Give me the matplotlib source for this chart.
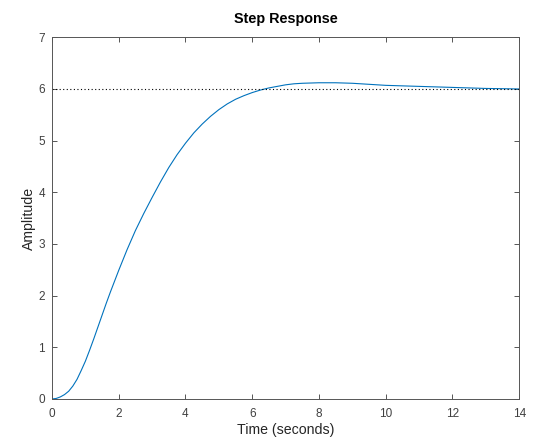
import matplotlib
matplotlib.use("Agg")
import matplotlib.pyplot as plt

t = [0, 0.125, 0.25, 0.375, 0.5, 0.625, 0.75, 0.875, 1.0, 1.125, 1.25, 1.375,
     1.5, 1.625, 1.75, 2.0, 2.25, 2.5, 2.75, 3.0, 3.25, 3.5, 3.75, 4.0, 4.25,
     4.5, 4.75, 5.0, 5.25, 5.5, 5.75, 6.0, 6.25, 6.5, 6.75, 7.0, 7.25, 7.5,
     8.0, 8.5, 9.0, 9.5, 10, 11, 12, 13, 14]
amp = [0, 0.01, 0.04, 0.085, 0.15, 0.25, 0.38, 0.55, 0.73, 0.94, 1.16, 1.39,
       1.62, 1.85, 2.07, 2.49, 2.89, 3.26, 3.59, 3.9, 4.2, 4.48, 4.73, 4.95, 5.15,
       5.32, 5.47, 5.6, 5.71, 5.8, 5.87, 5.93, 5.98, 6.02, 6.05, 6.08, 6.10, 6.11,
       6.12, 6.12, 6.11, 6.09, 6.07, 6.05, 6.03, 6.01, 6.0]
final_value = 6
x_ticks = [0, 2, 4, 6, 8, 10, 12, 14]
y_ticks = [0, 1, 2, 3, 4, 5, 6, 7]

plt.rcParams['font.family'] = ['Liberation Sans', 'DejaVu Sans']
frame = '#555555'
text_col = '#262626'

fig = plt.figure(figsize=(5.42, 4.45), dpi=100)
ax = fig.add_axes([0.0959, 0.1034, 0.8621, 0.8128])

ax.plot(t, amp, color='#0072BD', linewidth=0.8)
ax.axhline(final_value, color='black', linestyle=(0, (1, 2.2)), linewidth=0.8)

ax.set_xlim(0, 14)
ax.set_ylim(0, 7)
ax.set_xticks(x_ticks)
ax.set_yticks(y_ticks)
ax.tick_params(direction='in', length=3.5, width=0.7, color=frame,
               labelcolor='#404040', labelsize=8.5, top=True, right=True)
ax.tick_params(axis='x', pad=6.5)
ax.tick_params(axis='y', pad=5)
for s in ax.spines.values():
    s.set_color(frame)
    s.set_linewidth(0.7)

ax.set_title("Step Response", fontsize=10.4, fontweight='bold', pad=10,
             color='black')
ax.set_xlabel("Time (seconds)", fontsize=10.2, labelpad=2, color=text_col)
ax.set_ylabel("Amplitude", fontsize=10.2, labelpad=2, color=text_col)

fig.savefig("out.png", dpi=100)
